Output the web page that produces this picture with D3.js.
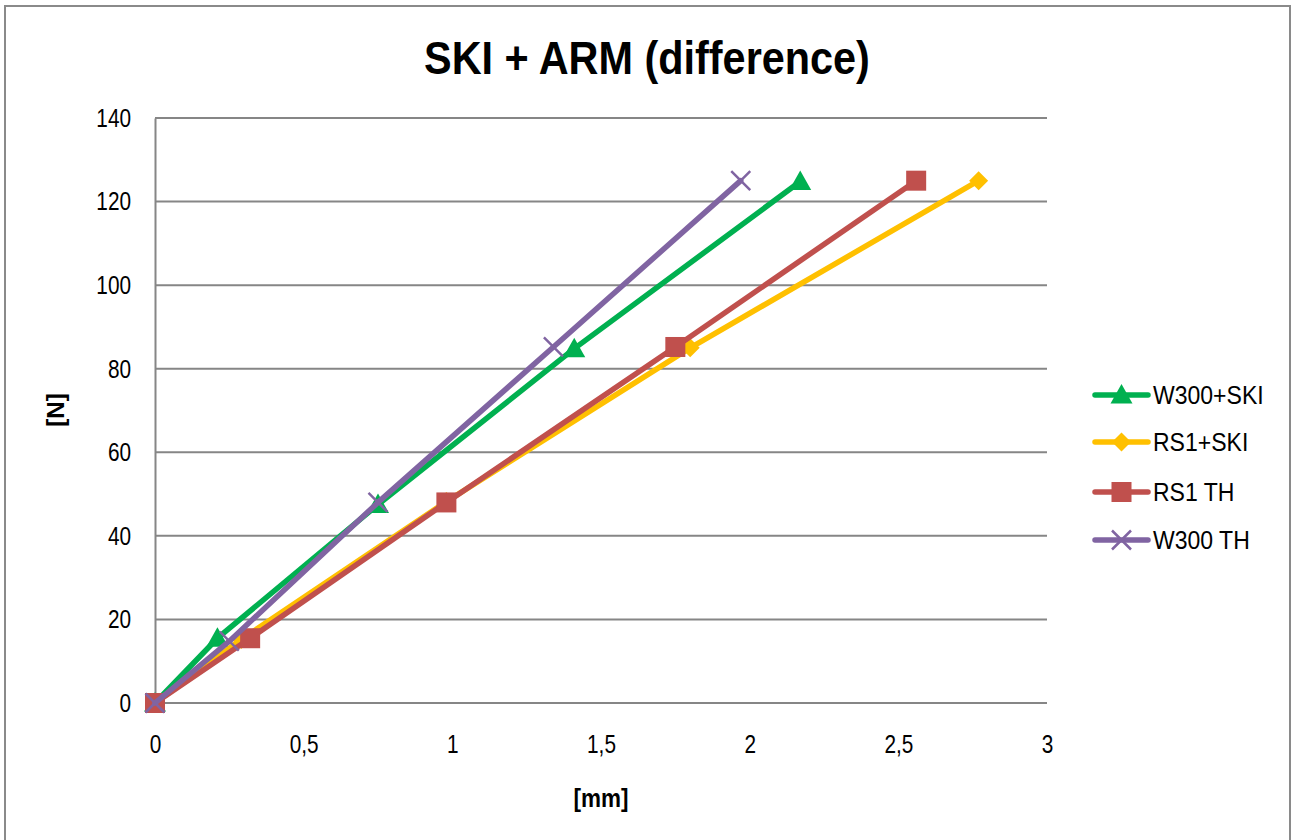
<!DOCTYPE html>
<html>
<head>
<meta charset="utf-8">
<script src="https://cdn.jsdelivr.net/npm/d3@7"></script>
<style>
  html, body { margin: 0; padding: 0; background: #fff; }
  svg { display: block; }
  text { font-family: "Liberation Sans Narrow", "Arial Narrow", "Liberation Sans", sans-serif; fill: #000; }
  /* condensed look for the labels */
  .narrow { transform-box: fill-box; }
  .narrow-c { transform-origin: center; }
  .narrow-r { transform-origin: right center; }
  .narrow-l { transform-origin: left center; }
</style>
</head>
<body>
<svg id="chart" width="1292" height="840"></svg>
<script>
// Displacement [mm] and force [N] per measurement series
const seriesNames = ["W300+SKI", "RS1+SKI", "RS1 TH", "W300 TH"];
const w300SkiX = [0, 0.21, 0.75, 1.41, 2.17];
const w300SkiY = [0, 15.5, 47.5, 84.8, 124.8];
const rs1SkiX = [0, 0.29, 0.98, 1.80, 2.77];
const rs1SkiY = [0, 15.2, 48.2, 85, 125];
const rs1ThX = [0, 0.32, 0.98, 1.75, 2.56];
const rs1ThY = [0, 15.5, 48, 85.2, 125];
const w300ThX = [0, 0.25, 0.75, 1.34, 1.97];
const w300ThY = [0, 14.8, 48, 85.2, 125];
const xTicks = [0, 0.5, 1, 1.5, 2, 2.5, 3];
const yTicks = [0, 20, 40, 60, 80, 100, 120, 140];
const colors = ["#00B050", "#FFC000", "#C0504D", "#8064A2"];
const markerTypes = ["triangle", "diamond", "square", "cross"];

const series = [
  { name: seriesNames[0], xs: w300SkiX, ys: w300SkiY },
  { name: seriesNames[1], xs: rs1SkiX, ys: rs1SkiY },
  { name: seriesNames[2], xs: rs1ThX, ys: rs1ThY },
  { name: seriesNames[3], xs: w300ThX, ys: w300ThY }
].map((s, i) => ({
  ...s,
  color: colors[i],
  marker: markerTypes[i],
  points: s.xs.map((x, j) => ({ x, y: s.ys[j] }))
}));

const svg = d3.select("#chart");

// chart frame
svg.append("rect")
  .attr("x", 5).attr("y", 6)
  .attr("width", 1285).attr("height", 840)
  .attr("fill", "#fff")
  .attr("stroke", "#8a8a8a").attr("stroke-width", 2);

const plot = { left: 155, right: 1047, top: 118, bottom: 703 };

const x = d3.scaleLinear().domain([0, 3]).range([plot.left, plot.right]);
const y = d3.scaleLinear().domain([0, 140]).range([plot.bottom, plot.top]);

// horizontal gridlines
svg.append("g")
  .selectAll("line")
  .data(yTicks)
  .join("line")
  .attr("x1", plot.left).attr("x2", plot.right)
  .attr("y1", d => y(d)).attr("y2", d => y(d))
  .attr("stroke", "#868686").attr("stroke-width", 2);

// y axis
const yAxis = svg.append("g")
  .attr("transform", `translate(${plot.left},0)`)
  .call(d3.axisLeft(y).tickValues(yTicks).tickSize(0).tickPadding(24).tickFormat(d3.format("d")));
yAxis.attr("font-family", null).attr("font-size", null);
yAxis.select(".domain").attr("stroke", "#868686").attr("stroke-width", 2);
yAxis.selectAll("text")
  .attr("font-size", 26)
  .attr("class", "narrow narrow-r")
  .style("transform", "scaleX(0.8)");

// x axis
const fmtComma = d => String(d).replace(".", ",");
const xAxis = svg.append("g")
  .attr("transform", `translate(0,${plot.bottom})`)
  .call(d3.axisBottom(x).tickValues(xTicks).tickSize(0).tickPadding(32).tickFormat(fmtComma));
xAxis.attr("font-family", null).attr("font-size", null);
xAxis.select(".domain").remove();
xAxis.selectAll("text")
  .attr("font-size", 26)
  .attr("class", "narrow narrow-c")
  .style("transform", "scaleX(0.8)");

// title and axis titles
svg.append("text")
  .attr("x", 647).attr("y", 74)
  .attr("text-anchor", "middle")
  .attr("font-size", 46).attr("font-weight", "bold")
  .attr("class", "narrow narrow-c")
  .style("transform", "scaleX(0.9)")
  .text("SKI + ARM (difference)");

svg.append("text")
  .attr("x", 601).attr("y", 807)
  .attr("text-anchor", "middle")
  .attr("font-size", 25).attr("font-weight", "bold")
  .attr("class", "narrow narrow-c")
  .style("transform", "scaleX(0.9)")
  .text("[mm]");

svg.append("text")
  .attr("transform", "translate(64,410) rotate(-90)")
  .attr("text-anchor", "middle")
  .attr("font-size", 24).attr("font-weight", "bold")
  .text("[N]");

// marker shapes
function drawMarker(g, type, color) {
  if (type === "triangle") {
    g.append("path").attr("d", "M0,-11 L11,8.5 L-11,8.5 Z").attr("fill", color);
  } else if (type === "diamond") {
    g.append("path").attr("d", "M0,-9.5 L9.5,0 L0,9.5 L-9.5,0 Z").attr("fill", color);
  } else if (type === "square") {
    g.append("rect").attr("x", -10).attr("y", -10).attr("width", 20).attr("height", 20).attr("fill", color);
  } else if (type === "cross") {
    g.append("path").attr("d", "M-9.5,-9.5 L9.5,9.5 M-9.5,9.5 L9.5,-9.5")
      .attr("stroke", color).attr("stroke-width", 2.5).attr("fill", "none");
  }
}

const line = d3.line().x(d => x(d.x)).y(d => y(d.y));

const seriesG = svg.append("g");
series.forEach(s => {
  const g = seriesG.append("g");
  g.append("path")
    .datum(s.points)
    .attr("d", line)
    .attr("fill", "none")
    .attr("stroke", s.color)
    .attr("stroke-width", 5.5)
    .attr("stroke-linejoin", "round")
    .attr("stroke-linecap", "round");
  s.points.forEach(p => {
    const m = g.append("g").attr("transform", `translate(${x(p.x)},${y(p.y)})`);
    drawMarker(m, s.marker, s.color);
  });
});

// legend
const legendRows = [395, 442, 492, 540];
const legend = svg.append("g");
series.forEach((s, i) => {
  const row = legend.append("g").attr("transform", `translate(1095,${legendRows[i]})`);
  row.append("line")
    .attr("x1", 0).attr("x2", 53).attr("y1", 0).attr("y2", 0)
    .attr("stroke", s.color).attr("stroke-width", 5.5).attr("stroke-linecap", "round");
  drawMarker(row.append("g").attr("transform", "translate(26.5,0)"), s.marker, s.color);
  row.append("text")
    .attr("x", 58).attr("y", 0).attr("dy", "0.35em")
    .attr("font-size", 26)
    .attr("class", "narrow narrow-l")
    .style("transform", "scaleX(0.885)")
    .text(s.name);
});
</script>
</body>
</html>
